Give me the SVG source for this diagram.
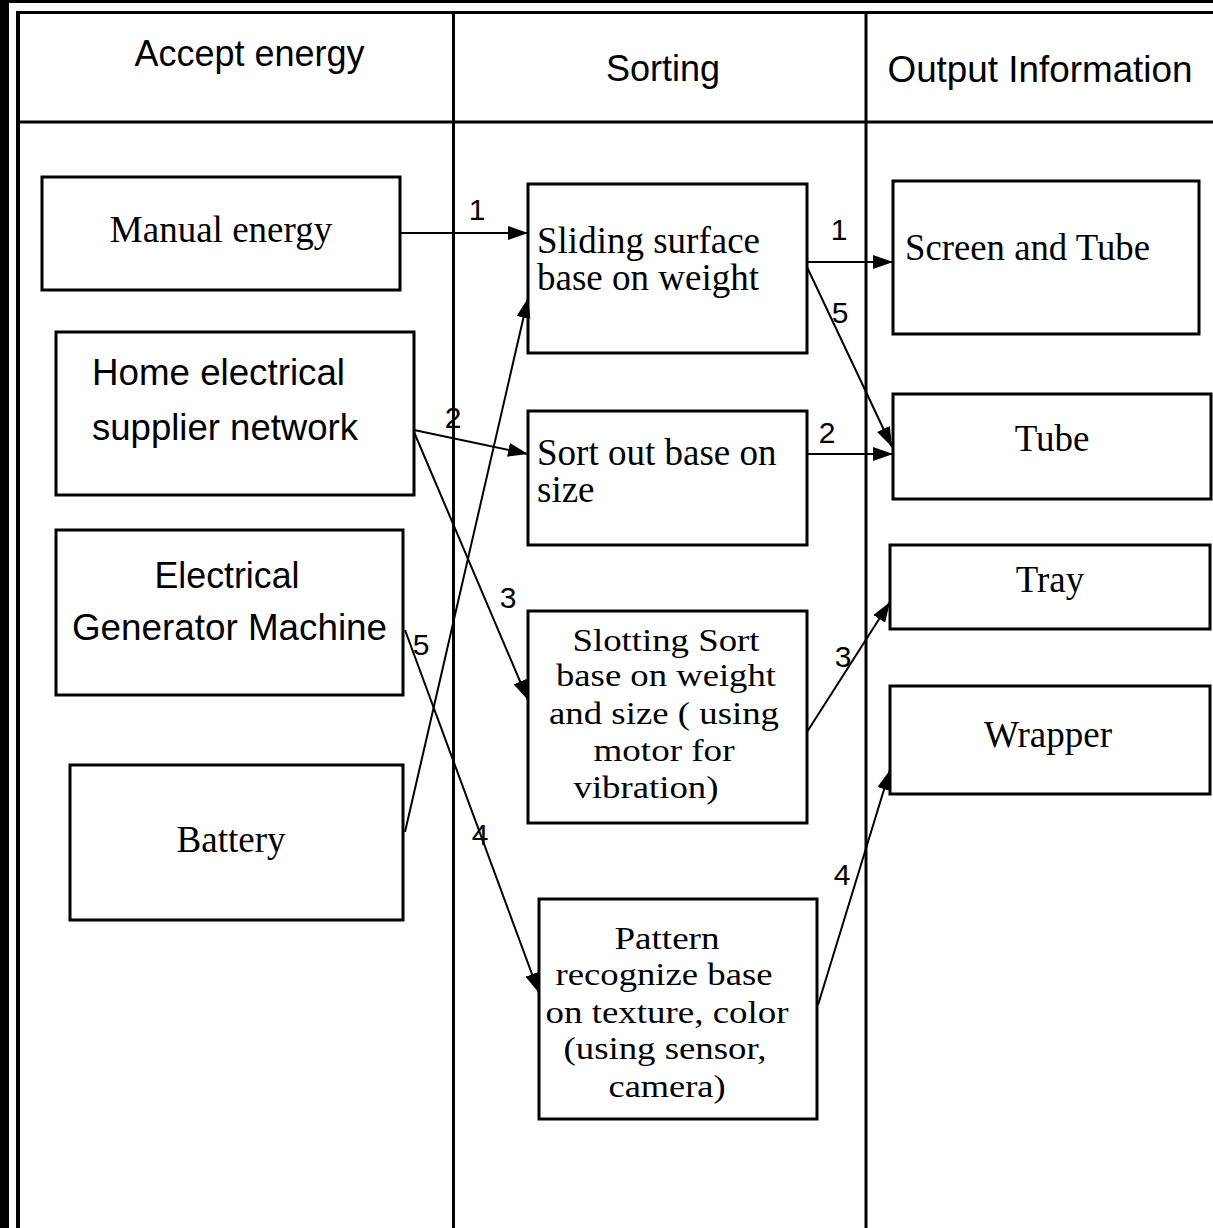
<svg xmlns="http://www.w3.org/2000/svg" width="1213" height="1228" viewBox="0 0 1213 1228">
  <defs>
    <style>
      .frame { stroke: #000; fill: none; }
      .box { fill: #fff; stroke: #000; stroke-width: 3; }
      .sans { font-family: "Liberation Sans", Arial, sans-serif; font-size: 36px; fill: #000; }
      .serif { font-family: "Liberation Serif", "Times New Roman", serif; font-size: 37px; fill: #000; }
      .tight { font-size: 31px; }
      .mid { text-anchor: middle; }
      .num { font-family: "Liberation Sans", Arial, sans-serif; font-size: 30px; fill: #000; text-anchor: middle; }
      .link { stroke: #000; stroke-width: 2; fill: none; marker-end: url(#head); }
    </style>
    <marker id="head" markerUnits="userSpaceOnUse" markerWidth="20" markerHeight="14" refX="20" refY="7" orient="auto">
      <path d="M0,0 L20,7 L0,14 Z" fill="#000"/>
    </marker>
  </defs>

  <rect width="1213" height="1228" fill="#fff"/>

  <!-- swimlane frame -->
  <g id="lanes">
    <rect x="0" y="0" width="9" height="1228" fill="#000"/>
    <rect x="0" y="0" width="1213" height="3" fill="#000"/>
    <line class="frame" x1="18" y1="11" x2="18" y2="1228" stroke-width="4"/>
    <line class="frame" x1="16" y1="12.5" x2="1213" y2="12.5" stroke-width="3"/>
    <line class="frame" x1="16" y1="122" x2="1213" y2="122" stroke-width="3"/>
    <line class="frame" x1="453.5" y1="12" x2="453.5" y2="1228" stroke-width="3"/>
    <line class="frame" x1="866" y1="12" x2="866" y2="1228" stroke-width="3"/>
    <text class="sans mid" x="249.5" y="66">Accept energy</text>
    <text class="sans mid" x="663" y="81">Sorting</text>
    <text class="sans mid" x="1040" y="82" textLength="305" lengthAdjust="spacingAndGlyphs">Output Information</text>
  </g>

  <!-- energy sources -->
  <g id="manual-energy">
    <rect class="box" x="42" y="177" width="358" height="113"/>
    <text class="serif mid" x="221" y="242">Manual energy</text>
  </g>
  <g id="home-network">
    <rect class="box" x="56" y="332" width="358" height="163"/>
    <text class="sans" x="92" y="385" textLength="253" lengthAdjust="spacingAndGlyphs">Home electrical</text>
    <text class="sans" x="92" y="440" textLength="266" lengthAdjust="spacingAndGlyphs">supplier network</text>
  </g>
  <g id="generator">
    <rect class="box" x="56" y="530" width="347" height="165"/>
    <text class="sans mid" x="227" y="588" textLength="145" lengthAdjust="spacingAndGlyphs">Electrical</text>
    <text class="sans mid" x="229.5" y="640" textLength="315" lengthAdjust="spacingAndGlyphs">Generator Machine</text>
  </g>
  <g id="battery">
    <rect class="box" x="70" y="765" width="333" height="155"/>
    <text class="serif mid" x="231" y="852">Battery</text>
  </g>

  <!-- sorting methods -->
  <g id="sliding">
    <rect class="box" x="528" y="184" width="279" height="169"/>
    <text class="serif" x="537" y="253">Sliding surface</text>
    <text class="serif" x="537" y="290">base on weight</text>
  </g>
  <g id="size-sort">
    <rect class="box" x="528" y="411" width="279" height="134"/>
    <text class="serif" x="537" y="465">Sort out base on</text>
    <text class="serif" x="537" y="502">size</text>
  </g>
  <g id="slotting">
    <rect class="box" x="528" y="611" width="279" height="212"/>
    <text class="serif tight mid" x="666" y="651" textLength="187" lengthAdjust="spacingAndGlyphs">Slotting Sort</text>
    <text class="serif tight mid" x="666" y="686" textLength="220" lengthAdjust="spacingAndGlyphs">base on weight</text>
    <text class="serif tight mid" x="664" y="724" textLength="230" lengthAdjust="spacingAndGlyphs">and size ( using</text>
    <text class="serif tight mid" x="664" y="761" textLength="141" lengthAdjust="spacingAndGlyphs">motor for</text>
    <text class="serif tight mid" x="646" y="798" textLength="145" lengthAdjust="spacingAndGlyphs">vibration)</text>
  </g>
  <g id="pattern">
    <rect class="box" x="539" y="899" width="278" height="220"/>
    <text class="serif tight mid" x="667" y="949" textLength="105" lengthAdjust="spacingAndGlyphs">Pattern</text>
    <text class="serif tight mid" x="664" y="985" textLength="217" lengthAdjust="spacingAndGlyphs">recognize base</text>
    <text class="serif tight mid" x="667" y="1023" textLength="243" lengthAdjust="spacingAndGlyphs">on texture, color</text>
    <text class="serif tight mid" x="665" y="1059" textLength="203" lengthAdjust="spacingAndGlyphs">(using sensor,</text>
    <text class="serif tight mid" x="667" y="1097" textLength="117" lengthAdjust="spacingAndGlyphs">camera)</text>
  </g>

  <!-- outputs -->
  <g id="screen-tube">
    <rect class="box" x="893" y="181" width="306" height="153"/>
    <text class="serif" x="905" y="260" textLength="245" lengthAdjust="spacingAndGlyphs">Screen and Tube</text>
  </g>
  <g id="tube">
    <rect class="box" x="893" y="394" width="318" height="105"/>
    <text class="serif mid" x="1052" y="451">Tube</text>
  </g>
  <g id="tray">
    <rect class="box" x="890" y="545" width="320" height="84"/>
    <text class="serif mid" x="1050" y="592">Tray</text>
  </g>
  <g id="wrapper">
    <rect class="box" x="890" y="686" width="320" height="108"/>
    <text class="serif mid" x="1048" y="747">Wrapper</text>
  </g>

  <!-- connectors -->
  <g id="connectors">
    <path class="link" d="M400,233 L528,233"/>
    <path class="link" d="M807,262 L893,262"/>
    <path class="link" d="M807,267 L892,447"/>
    <path class="link" d="M807,454 L893,454"/>
    <path class="link" d="M414,430 L528,454"/>
    <path class="link" d="M414,432 L528,700"/>
    <path class="link" d="M405,832 L528,298"/>
    <path class="link" d="M405,630 L539,993"/>
    <path class="link" d="M807,732 L890,602"/>
    <path class="link" d="M818,1005 L890,770"/>
    <text class="num" x="477" y="220">1</text>
    <text class="num" x="839" y="240">1</text>
    <text class="num" x="840" y="323">5</text>
    <text class="num" x="827" y="443">2</text>
    <text class="num" x="453" y="428">2</text>
    <text class="num" x="508" y="608">3</text>
    <text class="num" x="421" y="655">5</text>
    <text class="num" x="480" y="845">4</text>
    <text class="num" x="843" y="667">3</text>
    <text class="num" x="842" y="885">4</text>
  </g>
</svg>
